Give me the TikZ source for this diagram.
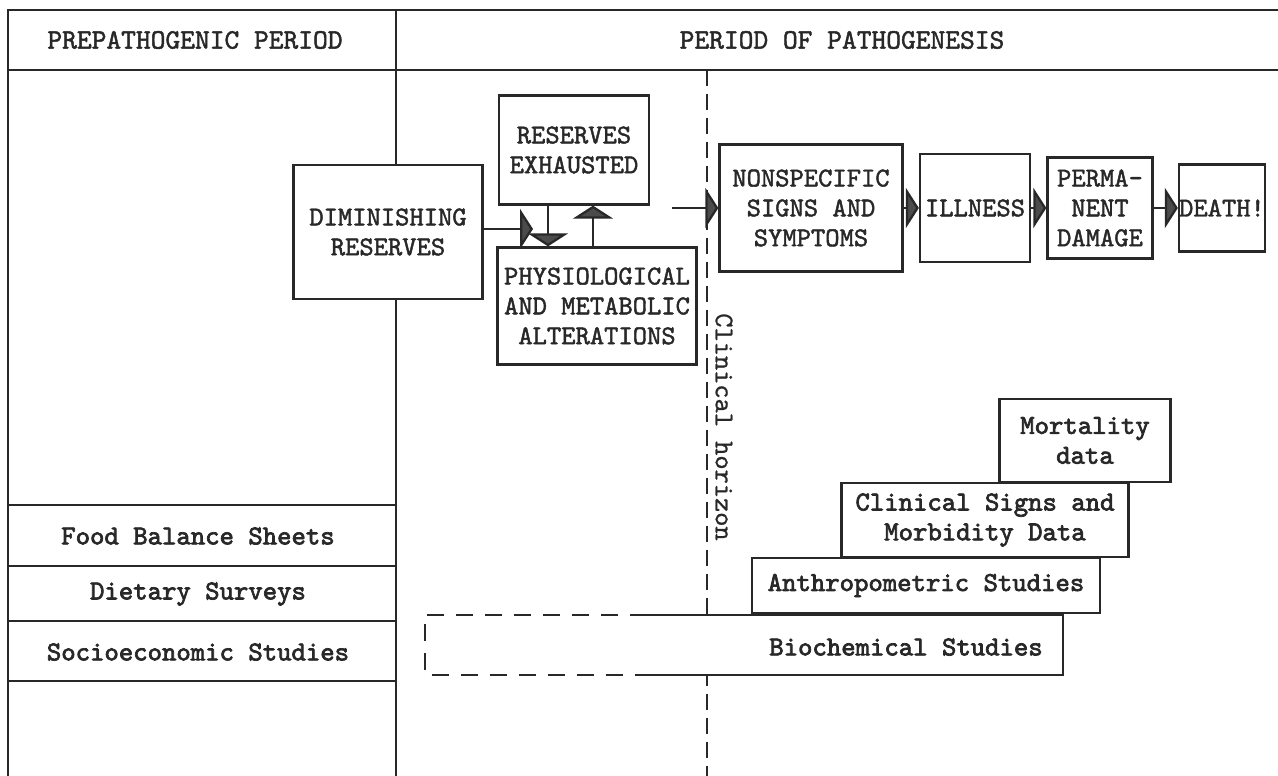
\documentclass[tikz,border=0pt]{standalone}
\usepackage{fontspec}
\newfontfamily\typew{lmmono10-regular}[Extension = .otf, FakeBold = 1.6]
\newfontfamily\typeheavy{lmmono10-regular}[Extension = .otf, FakeBold = 2.6]
\newfontfamily\typelight{lmmono10-regular}[Extension = .otf, FakeBold = 0.8]
\usepackage{tikz}
\usetikzlibrary{arrows.meta}
\definecolor{ink}{RGB}{40, 40, 40}
\definecolor{tipgray}{RGB}{75, 75, 75}

\begin{document}
\begin{tikzpicture}[x = 0.02cm, y = -0.02cm,
			every node/.style = {font = \typew\fontsize{15.5}{17}\selectfont, text = ink},
			box/.style = {draw = ink, fill = white, line width = 1.3pt, align = center, inner sep = 0pt},
			lowlab/.style = {font = \typeheavy\fontsize{15.6}{17}\selectfont, align = center},
			rule/.style = {draw = ink, line width = 1.3pt},
			flow/.style = {ink, line width = 1.3pt, -{Triangle[length = 2.6mm, width = 8mm, fill = tipgray]}},
			horizon/.style = {ink, line width = 1.2pt, dash pattern = on 0.32cm off 0.16cm}]
			\useasboundingbox[fill = white] (0,0) rectangle (1278,776);
			\draw[rule] (8,776) -- (8,10) -- (1278,10);
			\draw[rule] (8,70) -- (1278,70);
			\draw[rule] (396,10) -- (396,776);
			\foreach \y in {505,566,621,681}
				\draw[rule] (8,\y) -- (396,\y);
			\draw[horizon] (707,70) -- (707,776);
			\node (prepath) at (195,40) [font = \typew\fontsize{16}{17}\selectfont] {PREPATHOGENIC PERIOD};
			\node (pathogen) at (842,40) [font = \typew\fontsize{16}{17}\selectfont] {PERIOD OF PATHOGENESIS};
			\node (foodbal) at (198,536) [lowlab] {Food Balance Sheets};
			\node (dietary) at (198,594) [lowlab] {Dietary Surveys};
			\node (socio) at (198,652) [lowlab] {Socioeconomic Studies};
			\node (horizon) at (724,427) [rotate = -90, font = \typelight\fontsize{15.4}{17}\selectfont] {Clinical horizon};
			\node (dimres) at (388,232) [box, minimum width = 3.78cm, minimum height = 2.68cm] {DIMINISHING\\RESERVES};
			\node (resexh) at (574,150) [box, minimum width = 3cm, minimum height = 2.18cm] {RESERVES\\EXHAUSTED};
			\node (physio) at (597,306) [box, minimum width = 3.98cm, minimum height = 2.34cm] {PHYSIOLOGICAL\\AND METABOLIC\\ALTERATIONS};
			\node (nonspec) at (811,208) [box, minimum width = 3.66cm, minimum height = 2.54cm] {NONSPECIFIC\\SIGNS AND\\SYMPTOMS};
			\node (illness) at (975,208) [box, minimum width = 2.2cm, minimum height = 2.16cm] {ILLNESS};
			\node (permdam) at (1100,208) [box, minimum width = 2.1cm, minimum height = 2.02cm] {PERMA-\\NENT\\DAMAGE};
			\node (death) at (1222,208) [box, minimum width = 1.72cm, minimum height = 1.74cm] {DEATH!};
			\node (biochem) at (744,645) [fill = white, minimum width = 12.76cm, minimum height = 1.2cm, inner sep = 0pt] {};
			\node (biotext) at (906,647) [lowlab] {Biochemical Studies};
			\node (anthro) at (926,585.5) [box, lowlab, minimum width = 6.96cm, minimum height = 1.1cm] {Anthropometric Studies};
			\node (clinsign) at (985,520) [box, lowlab, minimum width = 5.74cm, minimum height = 1.48cm] {Clinical Signs and\\Morbidity Data};
			\node (mortal) at (1085,440.5) [box, lowlab, minimum width = 3.42cm, minimum height = 1.66cm] {Mortality\\data};
			\coordinate (bsplit) at (647,0);
			\draw[rule] (bsplit |- biochem.north) -- (biochem.north east) -- (biochem.south east) -- (bsplit |- biochem.south);
			\draw[rule, dash pattern = on 0.34cm off 0.24cm] (bsplit |- biochem.north) -- (biochem.north west) -- (biochem.south west) -- (bsplit |- biochem.south);
			\coordinate (dtip) at (533,229);
			\coordinate (downx) at (548,0);
			\coordinate (upx) at (593,0);
			\coordinate (nsfrom) at (672,208);
			\draw[flow] (dimres.east |- dtip) -- (dtip);
			\draw[flow] (downx |- resexh.south) -- (downx |- physio.north);
			\draw[flow] (upx |- physio.north) -- (upx |- resexh.south);
			\draw[flow] (nsfrom) -- (nsfrom -| nonspec.west);
			\draw[flow] (nonspec) -- (illness);
			\draw[flow] (illness) -- (permdam);
			\draw[flow] (permdam) -- (death);
			\end{tikzpicture}
\end{document}
